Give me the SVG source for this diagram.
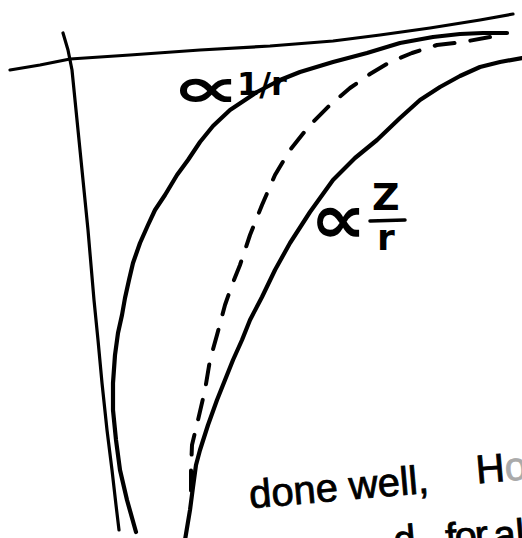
<svg xmlns="http://www.w3.org/2000/svg" width="522" height="538" viewBox="0 0 522 538">
<style>
.ln{fill:none;stroke:#000;stroke-linecap:round;stroke-linejoin:round}
.ax{stroke-width:3.2}
.cv{stroke-width:4.2}
.ds{stroke-width:4;stroke-dasharray:20 16}
.lb{font-family:"DejaVu Sans","Liberation Sans",sans-serif;font-weight:bold;fill:#000}
.hw{font-family:"Liberation Sans","DejaVu Sans",sans-serif;fill:#000;stroke:#000;stroke-width:0.8}
</style>
<rect width="522" height="538" fill="#fff"/>
<g id="axes">
<polyline class="ln ax" points="10,70 40,65 70,59 130,55 200,50 270,46 333,41 380,35 430,28 480,20 513,14"/>
<polyline class="ln ax" points="63,33 68,50 72,70 75,100 78,130 83,180 88,230 94,300 98,340 102,383 107,430 112,470 116,505 119,530"/>
</g>
<g id="curves">
<polyline id="curve-1-r" class="ln cv" points="136,532 127,500 120,470 116,440 113,410 113,383 115,355 118,333 122,315 125,298 129,280 133,263 140,243 148,225 155,210 165,195 177,175 188,160 200,142 213,126 230,110 257,92 280,80 300,72 333,62 367,53 400,43 433,37 460,34 483,33 507,33"/>
<polyline id="curve-dashed" class="ln ds" points="490,37 463,42 437,45 412,53 390,62 370,74 350,88 330,105 310,125 290,150 275,175 262,205 250,235 240,265 232,285 225,305 217,335 210,360 205,390 198,420 192,445 191,470 191,497"/>
<polyline id="curve-z-r" class="ln cv" stroke-width="4.8" points="185,540 190,510 193,487 196,465 200,450 208,425 217,400 225,380 233,360 242,340 250,320 262,297 275,270 290,243 310,212 333,180 355,158 377,140 400,118 420,100 440,87 460,76 480,67 500,62 522,58"/>
</g>
<g id="label-1-r">
<text class="lb" font-size="50" transform="translate(171,107) scale(1.95,1.12)">∝</text>
<text class="lb" x="237" y="95" font-size="32">1/r</text>
</g>
<g id="label-z-r">
<text class="lb" font-size="50" transform="translate(310,243) scale(1.6,1.4)">∝</text>
<text class="lb" x="372" y="210" font-size="38">Z</text>
<line class="ln" x1="370" y1="221" x2="405" y2="220" stroke-width="3.5"/>
<text class="lb" x="377" y="250" font-size="36">r</text>
</g>
<g id="note" transform="rotate(-5 380 500)">
<text class="hw" x="250" y="497" font-size="40">done well,</text>
<text class="hw" x="478" y="492" font-size="40">H<tspan fill="#aaa" stroke="#aaa">o</tspan></text>
<text class="hw" x="390" y="555" font-size="40">d</text>
<text class="hw" x="442" y="557" font-size="40" letter-spacing="-2">for</text>
<text class="hw" x="490" y="559" font-size="40">al</text>
</g>
</svg>
